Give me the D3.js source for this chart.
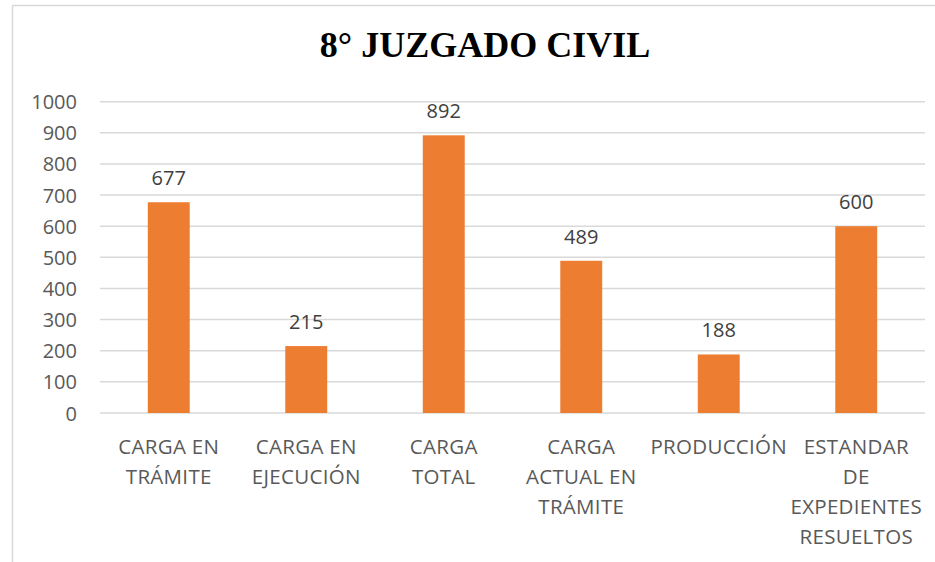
<!DOCTYPE html>
<html><head><meta charset="utf-8">
<script src="https://cdn.jsdelivr.net/npm/d3@7"></script>
<style>body{margin:0;background:#fff}svg{display:block}</style>
</head><body>
<script>
const categories = [
  ["CARGA EN","TRÁMITE"],
  ["CARGA EN","EJECUCIÓN"],
  ["CARGA","TOTAL"],
  ["CARGA","ACTUAL EN","TRÁMITE"],
  ["PRODUCCIÓN"],
  ["ESTANDAR","DE","EXPEDIENTES","RESUELTOS"]
];
const values = [677, 215, 892, 489, 188, 600];
const yTicks = [0,100,200,300,400,500,600,700,800,900,1000];
const title = "8° JUZGADO CIVIL";

const W = 935, H = 562;
const svg = d3.select("body").append("svg").attr("width", W).attr("height", H);

// chart border (top and left visible)
svg.append("line").attr("x1",12).attr("x2",W).attr("y1",5.5).attr("y2",5.5).attr("stroke","#d9d9d9").attr("stroke-width",1.5);
svg.append("line").attr("x1",12.5).attr("x2",12.5).attr("y1",5).attr("y2",H).attr("stroke","#d9d9d9").attr("stroke-width",1.5);

const idx = d3.range(categories.length);
const x = d3.scaleBand().domain(idx).range([100, 925]).paddingInner(0.695).paddingOuter(0.3475);
const y = d3.scaleLinear().domain([0, 1000]).range([413, 101.7]);

// gridlines
svg.append("g").selectAll("line").data(yTicks).join("line")
  .attr("x1",100).attr("x2",925)
  .attr("y1",d=>y(d)).attr("y2",d=>y(d))
  .attr("stroke","#d9d9d9").attr("stroke-width",1.5);

// y axis labels
const yAxis = d3.axisLeft(y).tickValues(yTicks).tickFormat(d3.format("d")).tickSize(0).tickPadding(0);
const gy = svg.append("g").attr("transform","translate(77,0)").call(yAxis);
gy.select(".domain").remove();
gy.selectAll("text").attr("font-family","'Open Sans'").attr("font-size",20).attr("fill","#595959").attr("dy","0.35em");

// bars
svg.append("g").selectAll("rect").data(values).join("rect")
  .attr("x",(d,i)=>x(i)).attr("width",x.bandwidth())
  .attr("y",d=>y(d)).attr("height",d=>y(0)-y(d))
  .attr("fill","#ED7D31");

// data labels
svg.append("g").selectAll("text").data(values).join("text")
  .attr("x",(d,i)=>x(i)+x.bandwidth()/2).attr("y",d=>y(d)-17)
  .attr("text-anchor","middle").attr("font-family","'Open Sans'").attr("font-size",20).attr("fill","#404040")
  .text(d=>d);

// category labels
const cg = svg.append("g").selectAll("text").data(categories).join("text")
  .attr("text-anchor","middle").attr("font-family","'Open Sans'").attr("font-size",20.5).attr("fill","#595959")
  .attr("letter-spacing","0.3px");
cg.each(function(lines,i){
  const t = d3.select(this);
  lines.forEach((l,j)=>{
    t.append("tspan").attr("x", x(i)+x.bandwidth()/2).attr("y", 454 + j*30).text(l);
  });
});

// title
svg.append("text").attr("x",485).attr("y",57).attr("text-anchor","middle")
  .attr("font-family","'Liberation Serif','Times New Roman',serif").attr("font-weight","bold")
  .attr("font-size",36).attr("fill","#000").text(title);
</script>
</body></html>
